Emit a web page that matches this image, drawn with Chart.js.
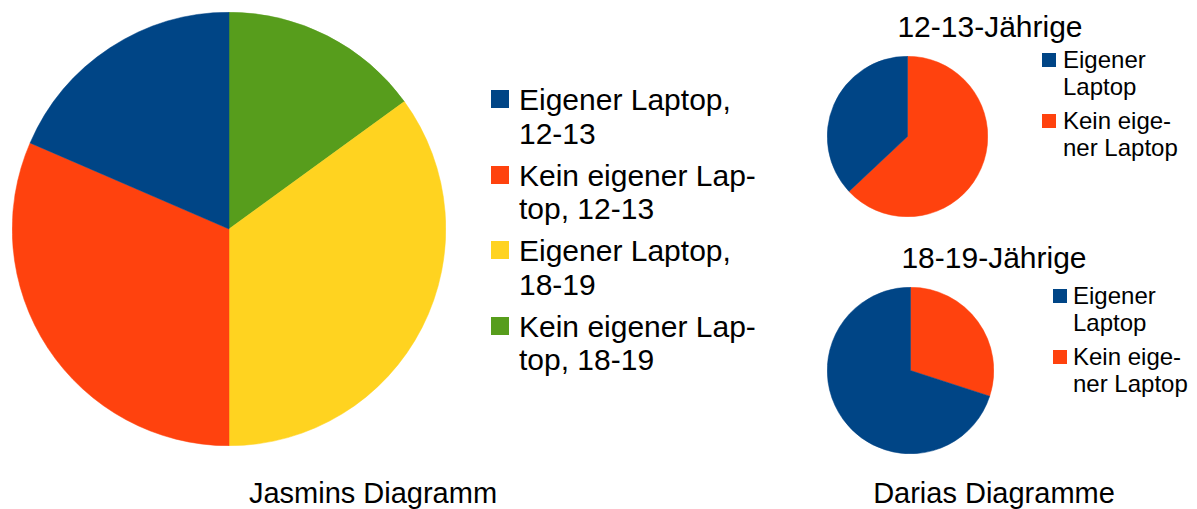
<!DOCTYPE html>
<html lang="de">
<head>
  <meta charset="UTF-8" />
  <title>Laptop-Diagramme</title>
  <script src="https://cdn.jsdelivr.net/npm/chart.js"></script>
  <style>
    body { margin: 0; width: 1197px; height: 509px; background: #fff; position: relative; overflow: hidden;
           font-family: "Liberation Sans", Arial, sans-serif; color: #000; }
    .pie { position: absolute; }
    .txt { position: absolute; white-space: nowrap; text-align: center; }
    .legend { position: absolute; }
    .legend .item { display: flex; align-items: flex-start; }
    .legend .box { flex: none; }
  </style>
</head>
<body>
  <div class="pie" style="left:12px; top:12px; width:434px; height:434px;"><canvas id="jasmin"></canvas></div>
  <div class="pie" style="left:827px; top:56px; width:161px; height:161px;"><canvas id="d1213"></canvas></div>
  <div class="pie" style="left:827px; top:287px; width:167px; height:167px;"><canvas id="d1819"></canvas></div>

  <div id="legJasmin" class="legend" style="left:491px; top:83px;"></div>
  <div id="leg1213" class="legend" style="left:1042px; top:47px;"></div>
  <div id="leg1819" class="legend" style="left:1053px; top:283px;"></div>

  <div class="txt" style="left:890px; width:200px; top:8px; font-size:30px; line-height:38px;">12-13-Jährige</div>
  <div class="txt" style="left:894px; width:200px; top:239px; font-size:30px; line-height:38px;">18-19-Jährige</div>
  <div class="txt" style="left:223px; width:300px; top:474px; font-size:29px; line-height:38px;">Jasmins Diagramm</div>
  <div class="txt" style="left:844px; width:300px; top:474px; font-size:29px; line-height:38px;">Darias Diagramme</div>

  <script>
    // Anteile in Prozent
    const jasminLabels = [
      ['Eigener Laptop,', '12-13'],
      ['Kein eigener Lap-', 'top, 12-13'],
      ['Eigener Laptop,', '18-19'],
      ['Kein eigener Lap-', 'top, 18-19']
    ];
    const jasminValues = [18.5, 31.5, 35, 15];
    const jasminColors = ['#004586', '#ff420e', '#ffd320', '#579d1c'];

    const dariaLabels = [['Eigener', 'Laptop'], ['Kein eige-', 'ner Laptop']];
    const daria1213Values = [37, 63];
    const daria1819Values = [70, 30];
    const dariaColors = ['#004586', '#ff420e'];

    // the original pies run counterclockwise from 12 o'clock,
    // Chart.js runs clockwise, so the slices are fed in reverse order
    function makePie(id, labels, values, colors) {
      new Chart(document.getElementById(id), {
        type: 'pie',
        data: {
          labels: labels.slice().reverse().map(l => l.join(' ')),
          datasets: [{
            data: values.slice().reverse(),
            backgroundColor: colors.slice().reverse(),
            borderColor: colors.slice().reverse(),
            borderWidth: 0.5
          }]
        },
        options: {
          responsive: true,
          maintainAspectRatio: false,
          animation: false,
          layout: { padding: 0 },
          plugins: { legend: { display: false }, tooltip: { enabled: false } }
        }
      });
    }

    function makeLegend(id, labels, colors, font, lineH, box, boxTop, gap, textLeft, itemGap) {
      const el = document.getElementById(id);
      labels.forEach((lines, i) => {
        const item = document.createElement('div');
        item.className = 'item';
        item.style.marginBottom = itemGap + 'px';
        const sq = document.createElement('div');
        sq.className = 'box';
        sq.style.width = box + 'px';
        sq.style.height = box + 'px';
        sq.style.marginTop = boxTop + 'px';
        sq.style.marginRight = (textLeft - box) + 'px';
        sq.style.background = colors[i];
        const t = document.createElement('div');
        t.style.fontSize = font + 'px';
        t.style.lineHeight = lineH + 'px';
        t.style.whiteSpace = 'nowrap';
        t.innerHTML = lines.join('<br>');
        item.appendChild(sq);
        item.appendChild(t);
        el.appendChild(item);
      });
    }

    makePie('jasmin', jasminLabels, jasminValues, jasminColors);
    makePie('d1213', dariaLabels, daria1213Values, dariaColors);
    makePie('d1819', dariaLabels, daria1819Values, dariaColors);

    makeLegend('legJasmin', jasminLabels, jasminColors, 30, 33.5, 18, 7, 28, 28, 8.5);
    makeLegend('leg1213', dariaLabels, dariaColors, 24, 26.5, 14, 6, 21, 21, 8);
    makeLegend('leg1819', dariaLabels, dariaColors, 24, 26.5, 14, 6, 20, 20, 8);
  </script>
</body>
</html>
